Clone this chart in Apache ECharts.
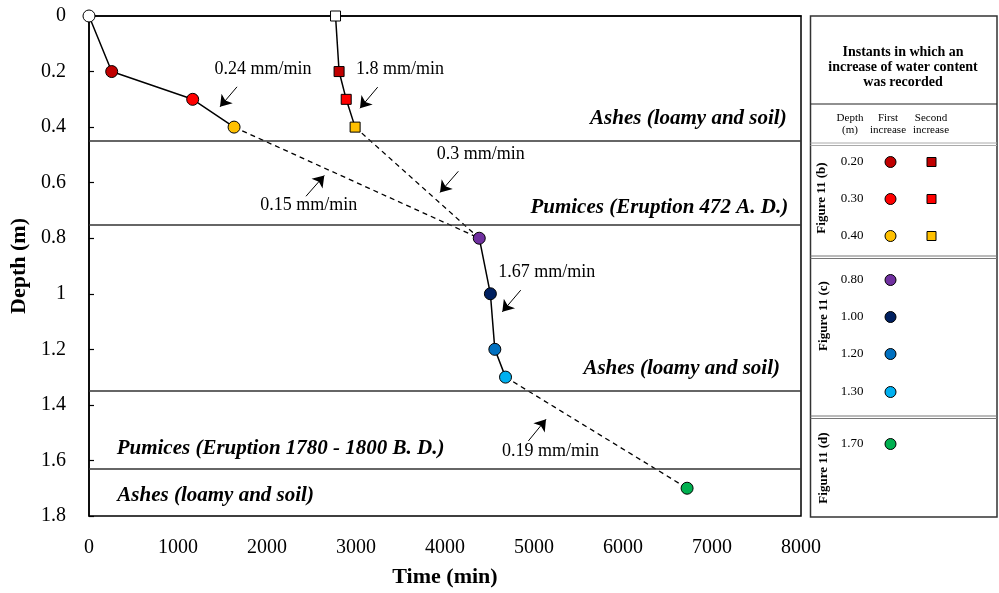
<!DOCTYPE html>
<html>
<head>
<meta charset="utf-8">
<script src="https://cdn.jsdelivr.net/npm/echarts@6/dist/echarts.min.js"></script>
<style>html,body{margin:0;padding:0;background:#fff;}#c{width:999px;height:593px;}</style>
</head>
<body>
<div id="c"></div>
<script>
// ---- data ----
const firstDepths = [0, 0.2, 0.3, 0.4, 0.8, 1.0, 1.2, 1.3, 1.7];
const firstTimes = [0, 255, 1165, 1630, 4385, 4510, 4560, 4680, 6720];
const firstColors = ['#ffffff', '#c00000', '#ff0000', '#ffc000', '#7030a0', '#002060', '#0070c0', '#00b0f0', '#00b050'];
const secondDepths = [0, 0.2, 0.3, 0.4];
const secondTimes = [2770, 2810, 2890, 2990];
const secondColors = ['#ffffff', '#c00000', '#ff0000', '#ffc000'];
const layerBounds = [0.45, 0.75, 1.35, 1.63];
const layerNames = ['Ashes (loamy and soil)', 'Pumices (Eruption 472 A. D.)', 'Ashes (loamy and soil)', 'Pumices (Eruption 1780 - 1800 B. D.)', 'Ashes (loamy and soil)'];
const rateTexts = ['0.24 mm/min', '1.8 mm/min', '0.3 mm/min', '0.15 mm/min', '1.67 mm/min', '0.19 mm/min'];
const xTicks = [0, 1000, 2000, 3000, 4000, 5000, 6000, 7000, 8000];
const yTicks = [0, 0.2, 0.4, 0.6, 0.8, 1, 1.2, 1.4, 1.6, 1.8];

// ---- placement of annotations (data coordinates) ----
const layerLabelPos = [[7839, 0.368, 'right'], [7857, 0.691, 'right'], [7764, 1.270, 'right'], [311, 1.557, 'left'], [318, 1.725, 'left']];
const rateTextPos = [[1955, 0.191], [3494, 0.191], [4401, 0.496], [2468, 0.680], [5142, 0.922], [5185, 1.568]];
const arrowCoords = [
  [[1663, 0.255], [1472, 0.327]],
  [[3244, 0.256], [3045, 0.332]],
  [[4150, 0.559], [3944, 0.635]],
  [[2438, 0.649], [2644, 0.574]],
  [[4851, 0.987], [4644, 1.065]],
  [[4936, 1.530], [5135, 1.452]]
];

const FONT = 'Liberation Serif';
const pts = (t, d, idx) => idx.map(i => [t[i], d[i]]);

const chart = echarts.init(document.getElementById('c'), null, {renderer: 'canvas'});

const lineBase = {type: 'line', showSymbol: false, symbol: 'none', silent: true, z: 2, animation: false};

const series = [
  Object.assign({}, lineBase, {data: pts(firstTimes, firstDepths, [0, 1, 2, 3]), lineStyle: {color: '#000', width: 1.5}}),
  Object.assign({}, lineBase, {data: pts(firstTimes, firstDepths, [3, 4]), lineStyle: {color: '#000', width: 1.3, type: [5, 4]}}),
  Object.assign({}, lineBase, {data: pts(firstTimes, firstDepths, [4, 5, 6, 7]), lineStyle: {color: '#000', width: 1.5}}),
  Object.assign({}, lineBase, {data: pts(firstTimes, firstDepths, [7, 8]), lineStyle: {color: '#000', width: 1.3, type: [5, 4]}}),
  Object.assign({}, lineBase, {data: pts(secondTimes, secondDepths, [0, 1, 2, 3]), lineStyle: {color: '#000', width: 1.5}}),
  Object.assign({}, lineBase, {data: [[secondTimes[3], secondDepths[3]], [firstTimes[4], firstDepths[4]]], lineStyle: {color: '#000', width: 1.3, type: [5, 4]}}),
  // layer boundaries
  {
    type: 'line', data: [], silent: true, animation: false,
    markLine: {
      silent: true, symbol: ['none', 'none'], animation: false,
      label: {show: false},
      lineStyle: {color: '#333', width: 1.5, type: 'solid'},
      data: layerBounds.map(b => ({yAxis: b}))
    }
  },
  // markers: first increase
  {
    type: 'scatter', symbol: 'circle', symbolSize: 12, z: 5, animation: false,
    data: firstTimes.map((t, i) => ({value: [t, firstDepths[i]], itemStyle: {color: firstColors[i], borderColor: '#000', borderWidth: 1, opacity: 1}}))
  },
  // markers: second increase
  {
    type: 'scatter', symbol: 'rect', symbolSize: 10, z: 5, animation: false,
    data: secondTimes.map((t, i) => ({value: [t, secondDepths[i]], itemStyle: {color: secondColors[i], borderColor: '#000', borderWidth: 1, opacity: 1}}))
  },
  // layer labels
  {
    type: 'scatter', symbolSize: 1, itemStyle: {color: 'rgba(0,0,0,0)'}, z: 4, animation: false, silent: true,
    data: layerLabelPos.map((p, i) => ({
      value: [p[0], p[1]],
      label: {show: true, position: 'inside', align: p[2], verticalAlign: 'middle', formatter: layerNames[i],
        fontFamily: FONT, fontSize: 21, fontWeight: 'bold', fontStyle: 'italic', color: '#000', textBorderWidth: 0, opacity: 1}
    }))
  },
  // rate texts
  {
    type: 'scatter', symbolSize: 1, itemStyle: {color: 'rgba(0,0,0,0)'}, z: 4, animation: false, silent: true,
    data: rateTextPos.map((p, i) => ({
      value: [p[0], p[1]],
      label: {show: true, position: 'inside', align: 'center', verticalAlign: 'middle', formatter: rateTexts[i],
        fontFamily: FONT, fontSize: 18, color: '#000', textBorderWidth: 0, opacity: 1}
    }))
  },
  // arrows
  {
    type: 'lines', coordinateSystem: 'cartesian2d', z: 4, animation: false, silent: true,
    symbol: ['none', 'arrow'], symbolSize: [7, 11],
    lineStyle: {color: '#000', width: 1, opacity: 1},
    data: arrowCoords.map(c => ({coords: c}))
  }
];

const G = [];
const PX = 810.5, PW = 186.5;
G.push({type: 'rect', shape: {x: PX, y: 16, width: PW, height: 501}, style: {fill: 'none', stroke: '#333', lineWidth: 1.5}});
G.push({type: 'line', shape: {x1: PX, y1: 104, x2: PX + PW, y2: 104}, style: {stroke: '#222', lineWidth: 1.2}});
[[143, '#aaa'], [256, '#777'], [416, '#777']].forEach(([y, c]) => {
  G.push({type: 'line', shape: {x1: PX, y1: y, x2: PX + PW, y2: y}, style: {stroke: c, lineWidth: 1}});
  G.push({type: 'line', shape: {x1: PX, y1: y + 2.5, x2: PX + PW, y2: y + 2.5}, style: {stroke: c, lineWidth: 1}});
});
G.push({type: 'text', x: 903, y: 67, style: {text: 'Instants in which an\nincrease of water content\nwas recorded', align: 'center', verticalAlign: 'middle', lineHeight: 15, font: 'bold 14px "' + FONT + '"', fill: '#000'}});
[['Depth\n(m)', 850], ['First\nincrease', 888], ['Second\nincrease', 931]].forEach(([t, x]) => {
  G.push({type: 'text', x: x, y: 124, style: {text: t, align: 'center', verticalAlign: 'middle', lineHeight: 12, font: '11px "' + FONT + '"', fill: '#000'}});
});
const legendRows = [
  {d: '0.20', y: 162, c: '#c00000', sq: '#c00000'},
  {d: '0.30', y: 199, c: '#ff0000', sq: '#ff0000'},
  {d: '0.40', y: 236, c: '#ffc000', sq: '#ffc000'},
  {d: '0.80', y: 280, c: '#7030a0'},
  {d: '1.00', y: 317, c: '#002060'},
  {d: '1.20', y: 354, c: '#0070c0'},
  {d: '1.30', y: 392, c: '#00b0f0'},
  {d: '1.70', y: 444, c: '#00b050'}
];
legendRows.forEach(r => {
  G.push({type: 'text', x: 852, y: r.y, style: {text: r.d, align: 'center', verticalAlign: 'middle', font: '13px "' + FONT + '"', fill: '#000'}});
  G.push({type: 'circle', shape: {cx: 890.5, cy: r.y, r: 5.5}, style: {fill: r.c, stroke: '#000', lineWidth: 1}});
  if (r.sq) G.push({type: 'rect', shape: {x: 927, y: r.y - 4.5, width: 9, height: 9}, style: {fill: r.sq, stroke: '#000', lineWidth: 1}});
});
[['Figure 11 (b)', 822, 198], ['Figure 11 (c)', 824, 316], ['Figure 11 (d)', 824, 468]].forEach(([t, x, y]) => {
  G.push({type: 'text', x: x, y: y, rotation: Math.PI / 2, style: {text: t, align: 'center', verticalAlign: 'middle', font: 'bold 13px "' + FONT + '"', fill: '#000'}});
});

chart.setOption({
  animation: false,
  backgroundColor: '#fff',
  grid: {left: 89, right: 198, top: 16, bottom: 76, show: true, borderColor: '#000', borderWidth: 1.5, backgroundColor: 'transparent'},
  xAxis: {
    type: 'value', min: xTicks[0], max: xTicks[xTicks.length - 1], interval: 1000,
    name: 'Time (min)', nameLocation: 'middle', nameGap: 50,
    nameTextStyle: {fontFamily: FONT, fontSize: 22, fontWeight: 'bold', color: '#000'},
    axisLine: {show: true, lineStyle: {color: '#000', width: 1.5}},
    axisTick: {show: false},
    splitLine: {show: false},
    axisLabel: {fontFamily: FONT, fontSize: 20, color: '#000', margin: 22, formatter: v => String(v)}
  },
  yAxis: {
    type: 'value', inverse: true, min: yTicks[0], max: yTicks[yTicks.length - 1], interval: 0.2,
    name: 'Depth (m)', nameLocation: 'middle', nameGap: 53,
    nameTextStyle: {fontFamily: FONT, fontSize: 22, fontWeight: 'bold', color: '#000'},
    axisLine: {show: true, lineStyle: {color: '#000', width: 1.5}},
    axisTick: {show: true, inside: true, length: 5, lineStyle: {color: '#000', width: 1.2}},
    splitLine: {show: false},
    axisLabel: {fontFamily: FONT, fontSize: 20, color: '#000', margin: 23, formatter: v => String(Math.round(v * 10) / 10)}
  },
  series: series,
  graphic: G
});
</script>
</body>
</html>
